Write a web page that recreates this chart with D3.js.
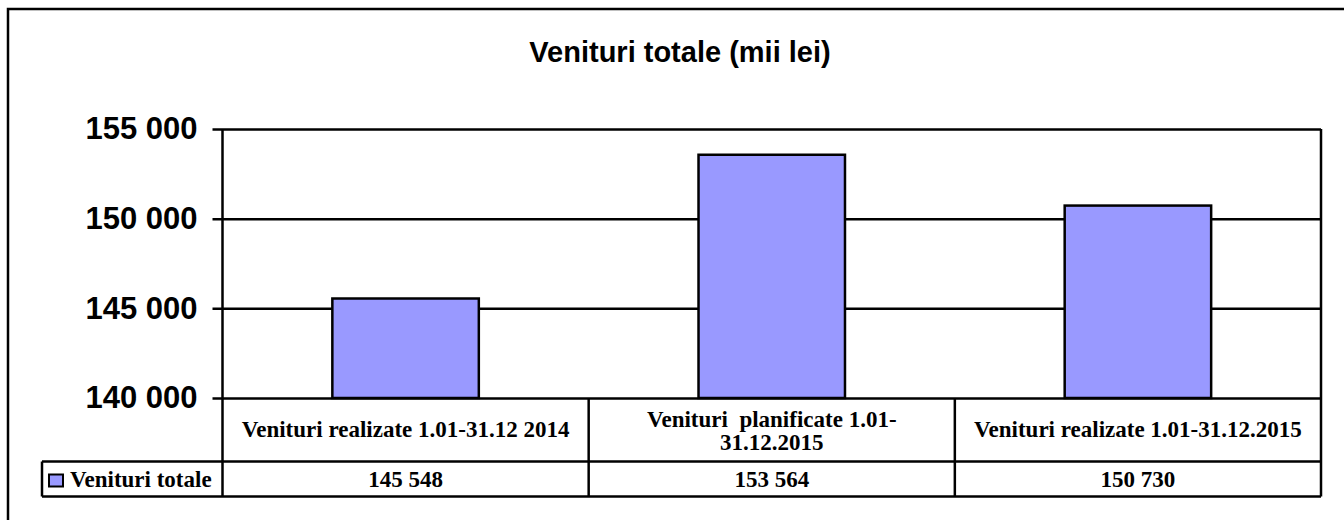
<!DOCTYPE html>
<html>
<head>
<meta charset="utf-8">
<script src="https://cdn.jsdelivr.net/npm/d3@7"></script>
<style>
  body { margin: 0; background: #fff; }
  svg { display: block; }
</style>
</head>
<body>
<svg id="chart"></svg>
<script>
// chart data
const chartTitle = "Venituri totale (mii lei)"
const seriesName = "Venituri totale"
const categories = [
  "Venituri realizate 1.01-31.12 2014",
  "Venituri  planificate 1.01-\n31.12.2015",
  "Venituri realizate 1.01-31.12.2015"
]
const values = [145548, 153564, 150730]
const yTicks = [140000, 145000, 150000, 155000]

const barColor = "#9999FF"
const sansFont = "Arial, 'Liberation Sans', sans-serif"
const serifFont = "'Times New Roman', 'Liberation Serif', serif"

var dimensions = {
  width: 1344,
  height: 520,
  plot: { left: 222.5, right: 1321, top: 129, bottom: 398 },
  catRow: 63.5,  // height of category label row
  valRow: 35
}
var rowTop = dimensions.plot.bottom + dimensions.catRow   // top of value row
var rowBottom = rowTop + dimensions.valRow

// number like "145 548"
var fmt = v => d3.format(",")(v).replace(/,/g, " ")

var svg = d3.select("#chart")
  .attr("width", dimensions.width)
  .attr("height", dimensions.height)

var xScale = d3.scaleBand()
  .domain(categories)
  .range([dimensions.plot.left, dimensions.plot.right])
  .paddingInner(0.6)
  .paddingOuter(0.3)

var yScale = d3.scaleLinear()
  .domain([d3.min(yTicks), d3.max(yTicks)])
  .range([dimensions.plot.bottom, dimensions.plot.top])

// outer frame (runs past right / bottom edge)
svg.append("rect")
  .attr("x", 8).attr("y", 9)
  .attr("width", 1400).attr("height", 600)
  .attr("fill", "none").attr("stroke", "#000").attr("stroke-width", 2.5)

// title
svg.append("text")
  .attr("x", 680)
  .attr("y", 62)
  .attr("text-anchor", "middle")
  .style("font-family", sansFont)
  .style("font-weight", "bold")
  .style("font-size", "29px")
  .text(chartTitle)

// y axis with gridlines
var yAxis = d3.axisLeft(yScale)
  .tickValues(yTicks)
  .tickFormat(fmt)
  .tickSize(-(dimensions.plot.right - dimensions.plot.left))
  .tickPadding(16)

var yG = svg.append("g")
  .attr("transform", "translate(" + dimensions.plot.left + ",0)")
  .call(yAxis)
yG.select(".domain").remove()
yG.selectAll(".tick line")
  .attr("x1", -10)
  .attr("stroke", "#000")
  .attr("stroke-width", 2.5)
yG.selectAll(".tick text")
  .attr("x", -25)
  .style("font-family", sansFont)
  .style("font-weight", "bold")
  .style("font-size", "31px")
  .attr("fill", "#000")

// bars
svg.selectAll(".bar")
  .data(values)
  .enter()
  .append("rect")
  .attr("class", "bar")
  .attr("x", (d, i) => xScale(categories[i]))
  .attr("y", d => yScale(d))
  .attr("width", xScale.bandwidth())
  .attr("height", d => yScale(d3.min(yTicks)) - yScale(d))
  .attr("fill", barColor)
  .attr("stroke", "#000")
  .attr("stroke-width", 2.5)

// plot border: left axis + right side
var step = xScale.step()
var colEdges = categories.map((c, i) => dimensions.plot.left + i * step).concat([dimensions.plot.right])

svg.append("line")
  .attr("x1", dimensions.plot.right).attr("x2", dimensions.plot.right)
  .attr("y1", dimensions.plot.top).attr("y2", dimensions.plot.bottom)
  .attr("stroke", "#000").attr("stroke-width", 2.5)
svg.append("line")
  .attr("x1", dimensions.plot.left).attr("x2", dimensions.plot.left)
  .attr("y1", dimensions.plot.top).attr("y2", dimensions.plot.bottom)
  .attr("stroke", "#000").attr("stroke-width", 2.5)

// data table
var table = svg.append("g")

// vertical column lines
table.selectAll(".colLine")
  .data(colEdges)
  .enter()
  .append("line")
  .attr("x1", d => d).attr("x2", d => d)
  .attr("y1", dimensions.plot.bottom).attr("y2", rowBottom)
  .attr("stroke", "#000").attr("stroke-width", 2.5)

// horizontal lines
table.append("line")
  .attr("x1", 42).attr("x2", dimensions.plot.right)
  .attr("y1", rowTop).attr("y2", rowTop)
  .attr("stroke", "#000").attr("stroke-width", 2.5)
table.append("line")
  .attr("x1", 42).attr("x2", dimensions.plot.right)
  .attr("y1", rowBottom).attr("y2", rowBottom)
  .attr("stroke", "#000").attr("stroke-width", 2.5)
table.append("line")
  .attr("x1", 42).attr("x2", 42)
  .attr("y1", rowTop).attr("y2", rowBottom)
  .attr("stroke", "#000").attr("stroke-width", 2.5)

// category labels
var catText = table.selectAll(".cat")
  .data(categories)
  .enter()
  .append("text")
  .attr("class", "cat")
  .attr("text-anchor", "middle")
  .attr("xml:space", "preserve")
  .style("white-space", "pre")
  .style("font-family", serifFont)
  .style("font-weight", "bold")
  .style("font-size", "23px")

catText.each(function(d, i) {
  var lines = d.split("\n")
  var cx = xScale(d) + xScale.bandwidth() / 2
  var midY = (dimensions.plot.bottom + rowTop) / 2
  var lineH = 23
  var firstBase = midY + 7.5 - (lines.length - 1) * lineH / 2 + (lines.length - 1) * 1.5
  d3.select(this).selectAll("tspan")
    .data(lines)
    .enter()
    .append("tspan")
    .attr("x", cx)
    .attr("y", (l, j) => firstBase + j * lineH)
    .text(l => l)
})

// value row
table.selectAll(".val")
  .data(values)
  .enter()
  .append("text")
  .attr("class", "val")
  .attr("x", (d, i) => xScale(categories[i]) + xScale.bandwidth() / 2)
  .attr("y", rowTop + 25.5)
  .attr("text-anchor", "middle")
  .style("font-family", serifFont)
  .style("font-weight", "bold")
  .style("font-size", "23px")
  .text(d => fmt(d))

// legend key in table
table.append("rect")
  .attr("x", 49).attr("y", rowTop + 13)
  .attr("width", 14).attr("height", 12)
  .attr("fill", barColor)
  .attr("stroke", "#000").attr("stroke-width", 2)

table.append("text")
  .attr("x", 70)
  .attr("y", rowTop + 25.5)
  .style("font-family", serifFont)
  .style("font-weight", "bold")
  .style("font-size", "23px")
  .text(seriesName)
</script>
</body>
</html>
